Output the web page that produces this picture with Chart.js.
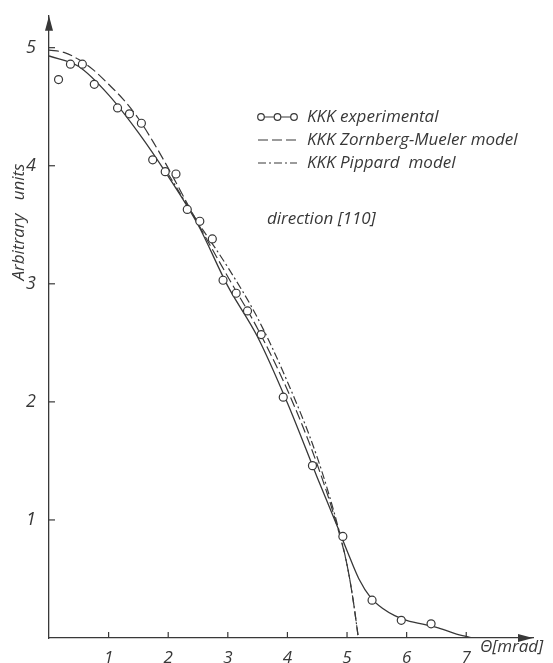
<!DOCTYPE html>
<html>
<head>
<meta charset="utf-8">
<script src="https://cdn.jsdelivr.net/npm/chart.js@4.4.1/dist/chart.umd.min.js"></script>
<style>
  html, body { margin: 0; padding: 0; background: #fff; }
  #wrap { width: 553px; height: 663px; position: relative; }
</style>
</head>
<body>
<div id="wrap"><canvas id="chart"></canvas></div>
<script>
// experimental points (theta in mrad, arbitrary units)
const expTheta = [0.16, 0.36, 0.56, 0.76, 1.15, 1.35, 1.55, 1.74, 1.95, 2.13, 2.32, 2.53, 2.74, 2.92, 3.14, 3.33, 3.56, 3.93, 4.42, 4.93, 5.42, 5.91, 6.41];
const expValue = [4.73, 4.86, 4.86, 4.69, 4.49, 4.44, 4.36, 4.05, 3.95, 3.93, 3.63, 3.53, 3.38, 3.03, 2.92, 2.77, 2.57, 2.04, 1.46, 0.86, 0.32, 0.15, 0.12];

// smooth curve through the experimental points
const fitTheta = [0, 0.5, 1.0, 1.5, 2.0, 2.5, 3.0, 3.5, 4.0, 4.5, 4.85, 5.0, 5.2, 5.4, 5.6, 5.8, 6.0, 6.5, 6.8, 7.1];
const fitValue = [4.93, 4.84, 4.60, 4.28, 3.91, 3.50, 2.98, 2.55, 1.99, 1.36, 0.93, 0.74, 0.50, 0.34, 0.25, 0.19, 0.15, 0.09, 0.04, 0];

// Zornberg-Mueler model
const zmTheta = [0, 0.25, 0.5, 0.75, 1.0, 1.25, 1.5, 1.75, 2.0, 2.5, 3.0, 3.5, 4.0, 4.5, 4.85, 5.0, 5.1, 5.19];
const zmValue = [4.98, 4.96, 4.90, 4.81, 4.69, 4.56, 4.40, 4.20, 3.98, 3.51, 3.06, 2.62, 2.10, 1.47, 0.92, 0.62, 0.33, 0];

// Pippard model
const pipTheta = [2.0, 2.5, 3.0, 3.5, 4.0, 4.5, 4.85, 5.0, 5.1, 5.19];
const pipValue = [3.93, 3.52, 3.14, 2.71, 2.17, 1.53, 0.94, 0.62, 0.33, 0];

const xTicks = [1, 2, 3, 4, 5, 6, 7];
const yTicks = [1, 2, 3, 4, 5];

const ink = '#383838';
const fontFam = "'Open Sans', 'DejaVu Sans', sans-serif";

function pairs(xs, ys) {
  return xs.map((x, i) => ({ x: x, y: ys[i] }));
}

const decor = {
  id: 'decor',
  afterDraw(chart) {
    const ctx = chart.ctx;
    const xs = chart.scales.x, ys = chart.scales.y;
    const area = chart.chartArea;
    ctx.save();
    ctx.strokeStyle = ink;
    ctx.fillStyle = ink;
    ctx.lineWidth = 1.2;

    // tick marks inside the axes
    xTicks.forEach(t => {
      const px = xs.getPixelForValue(t);
      ctx.beginPath();
      ctx.moveTo(px, area.bottom);
      ctx.lineTo(px, area.bottom - 6);
      ctx.stroke();
    });
    yTicks.forEach(t => {
      const py = ys.getPixelForValue(t);
      ctx.beginPath();
      ctx.moveTo(area.left, py);
      ctx.lineTo(area.left + 6, py);
      ctx.stroke();
    });

    // arrow heads
    ctx.beginPath();
    ctx.moveTo(area.left, area.top);
    ctx.lineTo(area.left - 4, area.top + 15);
    ctx.lineTo(area.left + 4, area.top + 15);
    ctx.closePath();
    ctx.fill();
    ctx.beginPath();
    ctx.moveTo(area.right, area.bottom);
    ctx.lineTo(area.right - 15, area.bottom - 4);
    ctx.lineTo(area.right - 15, area.bottom + 4);
    ctx.closePath();
    ctx.fill();

    // axis titles
    ctx.font = 'italic 17px ' + fontFam;
    ctx.textBaseline = 'middle';
    ctx.textAlign = 'left';
    ctx.fillText('\u0398[mrad]', 480, 647);
    ctx.save();
    ctx.translate(19, 222);
    ctx.rotate(-Math.PI / 2);
    ctx.textAlign = 'center';
    ctx.fillText('Arbitrary   units', 0, 0);
    ctx.restore();

    // legend
    const lx = 258, lw = 39;
    const rows = [117, 140, 163];
    ctx.font = 'italic 17px ' + fontFam;
    ctx.fillText('KKK experimental', 307, rows[0]);
    ctx.fillText('KKK Zornberg-Mueler model', 307, rows[1]);
    ctx.fillText('KKK Pippard  model', 307, rows[2]);
    ctx.fillText('direction [110]', 267, 219);

    ctx.lineWidth = 1.2;
    ctx.beginPath();
    ctx.moveTo(lx, rows[0]);
    ctx.lineTo(lx + lw, rows[0]);
    ctx.stroke();
    [lx + 3, lx + lw / 2, lx + lw - 3].forEach(cx => {
      ctx.beginPath();
      ctx.arc(cx, rows[0], 3.3, 0, Math.PI * 2);
      ctx.fillStyle = '#fff';
      ctx.fill();
      ctx.stroke();
    });
    ctx.fillStyle = ink;

    ctx.setLineDash([10, 4]);
    ctx.beginPath();
    ctx.moveTo(lx, rows[1]);
    ctx.lineTo(lx + lw, rows[1]);
    ctx.stroke();
    ctx.setLineDash([8, 3, 2, 3]);
    ctx.beginPath();
    ctx.moveTo(lx, rows[2]);
    ctx.lineTo(lx + lw, rows[2]);
    ctx.stroke();
    ctx.restore();
  }
};

new Chart(document.getElementById('chart'), {
  type: 'scatter',
  data: {
    datasets: [
      {
        label: 'KKK experimental',
        data: pairs(expTheta, expValue),
        showLine: false,
        pointRadius: 4,
        pointBorderWidth: 1.2,
        pointBorderColor: ink,
        pointBackgroundColor: '#fff'
      },
      {
        label: 'fit',
        data: pairs(fitTheta, fitValue),
        showLine: true,
        borderColor: ink,
        borderWidth: 1.3,
        pointRadius: 0,
        cubicInterpolationMode: 'monotone'
      },
      {
        label: 'KKK Zornberg-Mueler model',
        data: pairs(zmTheta, zmValue),
        showLine: true,
        borderColor: ink,
        borderWidth: 1.2,
        borderDash: [10, 4],
        pointRadius: 0,
        cubicInterpolationMode: 'monotone'
      },
      {
        label: 'KKK Pippard model',
        data: pairs(pipTheta, pipValue),
        showLine: true,
        borderColor: ink,
        borderWidth: 1.2,
        borderDash: [8, 3, 2, 3],
        pointRadius: 0,
        cubicInterpolationMode: 'monotone'
      }
    ]
  },
  options: {
    responsive: true,
    maintainAspectRatio: false,
    animation: false,
    layout: { padding: { top: 5, right: 20, left: 0, bottom: 0 } },
    plugins: { legend: { display: false }, tooltip: { enabled: false } },
    scales: {
      x: {
        type: 'linear',
        min: 0,
        max: 8.12,
        afterBuildTicks: s => { s.ticks = xTicks.map(v => ({ value: v })); },
        afterFit: s => { s.height = 25; },
        grid: { display: false },
        border: { display: true, color: ink, width: 1.3 },
        ticks: { color: ink, padding: 2, font: { family: fontFam, size: 17, style: 'italic' } }
      },
      y: {
        type: 'linear',
        min: 0,
        max: 5.27,
        afterBuildTicks: s => { s.ticks = yTicks.map(v => ({ value: v })); },
        afterFit: s => { s.width = 49; },
        grid: { display: false },
        border: { display: true, color: ink, width: 1.3 },
        ticks: { color: ink, padding: 5, font: { family: fontFam, size: 18, style: 'italic' } }
      }
    }
  },
  plugins: [decor]
});
</script>
</body>
</html>
